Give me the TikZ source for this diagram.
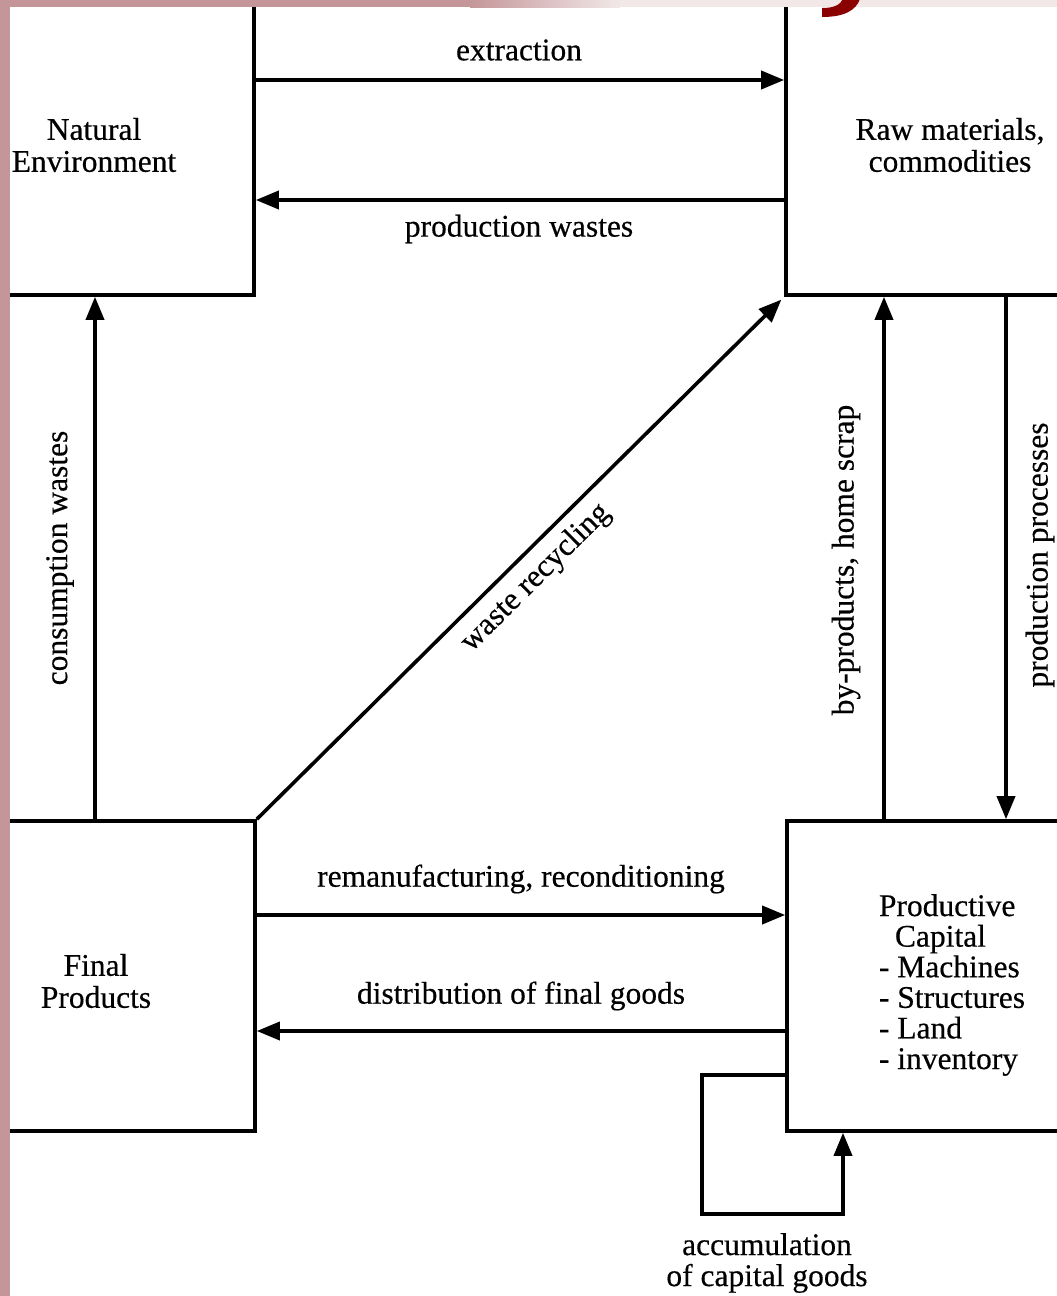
\documentclass[tikz,border=0pt]{standalone}
\usepackage{fontspec}
\setmainfont{Liberation Serif}[FakeBold=0.4]
\usetikzlibrary{arrows.meta,calc}

\definecolor{scanpink}{RGB}{196,150,153}
\definecolor{paleedge}{RGB}{242,232,232}
\definecolor{titlered}{RGB}{139,0,0}

\begin{document}
\begin{tikzpicture}[x=1pt,y=-1pt,
  every node/.style={font=\fontsize{31.5}{32}\selectfont},
  box/.style={draw,line width=3.6pt,rectangle,inner sep=0pt},
  flow/.style={line width=3.6pt,line join=miter,-{Triangle[length=23pt,width=18pt]}},
  lbl/.style={inner sep=0pt,align=center}]

\useasboundingbox (0,0) rectangle (1057,1296);
\clip (0,0) rectangle (1057,1296);
\fill[white] (0,0) rectangle (1057,1296);

% the four stocks
\node[box,minimum width=322pt,minimum height=300pt] (natenv) at (93,145) {};
\node[box,minimum width=328pt,minimum height=300pt] (raw) at (950,145) {};
\node[box,minimum width=318pt,minimum height=310pt] (final) at (96,976) {};
\node[box,minimum width=330pt,minimum height=310pt] (pcap) at (952,976) {};

\node[lbl] (natenvtext) at (94,145) {Natural\\Environment};
\node[lbl] (rawtext) at (950,145) {Raw materials,\\commodities};
\node[lbl] (finaltext) at (96,981) {Final\\Products};
\node[lbl,align=left,font=\fontsize{31.5}{30.6}\selectfont] (pcaptext) at (952,985)
  {Productive\\\hspace*{16pt}Capital\\- Machines\\- Structures\\- Land\\- inventory};

% levels and columns of the flows
\coordinate (yext) at (0,80);
\coordinate (ypw) at (0,200);
\coordinate (xcw) at (95,0);
\coordinate (xbp) at (884,0);
\coordinate (xpp) at (1006,0);
\coordinate (yrem) at (0,915);
\coordinate (ydist) at (0,1031);
\coordinate (yacc) at (0,1075);
\coordinate (xacc) at (843,0);
\coordinate (acca) at (702,1075);
\coordinate (accb) at (702,1214);
\coordinate (accc) at (843,1214);

% flows between the stocks
\draw[flow] (natenv.east |- yext) -- (raw.west |- yext);
\draw[flow] (raw.west |- ypw) -- (natenv.east |- ypw);
\draw[flow] (final.north -| xcw) -- (natenv.south -| xcw);
\draw[flow,shorten >=4pt] (final.north east) -- (raw.south west);
\draw[flow] (pcap.north -| xbp) -- (raw.south -| xbp);
\draw[flow] (raw.south -| xpp) -- (pcap.north -| xpp);
\draw[flow] (final.east |- yrem) -- (pcap.west |- yrem);
\draw[flow] (pcap.west |- ydist) -- (final.east |- ydist);
\draw[flow] (pcap.west |- yacc) -- (acca) -- (accb) -- (accc) -- (pcap.south -| xacc);

% flow labels
\node[lbl] (lext) at (519,50) {extraction};
\node[lbl] (lpw) at (519,229) {production wastes};
\node[lbl,rotate=90] (lcw) at (60,558) {consumption wastes};
\node[lbl,rotate=44.8] (lwr) at (536,578) {waste recycling};
\node[lbl,rotate=90] (lbp) at (846,560) {by-products, home scrap};
\node[lbl,rotate=90] (lpp) at (1040,555) {production processes};
\node[lbl] (lrem) at (521,879) {remanufacturing, reconditioning};
\node[lbl] (ldist) at (521,996) {distribution of final goods};
\node[lbl,font=\fontsize{31.5}{31}\selectfont] (lacc) at (767,1263) {accumulation\\of capital goods};

% scanned page margins
\fill[scanpink] (0,0) rectangle (10,1296);
\fill[scanpink] (0,0) rectangle (470,7);
\shade[left color=scanpink,right color=paleedge] (470,0) rectangle (620,7);
\fill[paleedge] (620,0) rectangle (1057,7);
\fill[titlered] (843,-1) -- (860,-1) .. controls (856,10) and (845,17) .. (822,17)
  -- (822,8) .. controls (834,8) and (840,5) .. cycle;
\end{tikzpicture}
\end{document}
